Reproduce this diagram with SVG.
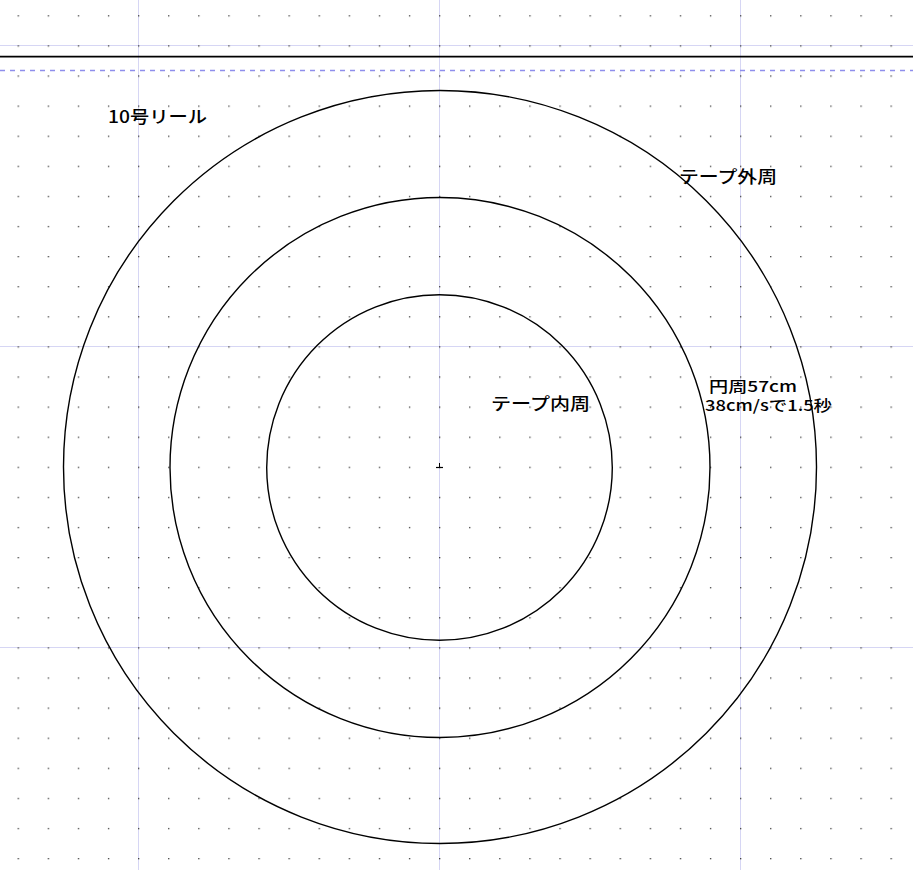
<svg xmlns="http://www.w3.org/2000/svg" width="913" height="870" viewBox="0 0 913 870">
<defs>
<pattern id="dots" patternUnits="userSpaceOnUse" x="17.6" y="15.2" width="30.1" height="30.1">
<rect x="0" y="0" width="1.3" height="1.3" fill="#404040"/>
</pattern>
<style>
.grid{stroke:#d6d6f4;stroke-width:1;fill:none}
.ring{stroke:#000;stroke-width:1.4;fill:none}
.lbl{font-family:"Noto Sans CJK JP","Liberation Sans",sans-serif;font-size:17px;font-weight:500;fill:#000}
.sm{font-size:15px}
</style>
</defs>
<rect width="913" height="870" fill="#fff"/>
<g id="grid">
<line class="grid" x1="138.5" y1="0" x2="138.5" y2="870"/>
<line class="grid" x1="439.5" y1="0" x2="439.5" y2="870"/>
<line class="grid" x1="740.5" y1="0" x2="740.5" y2="870"/>
<line class="grid" x1="0" y1="45.5" x2="913" y2="45.5"/>
<line class="grid" x1="0" y1="346.5" x2="913" y2="346.5"/>
<line class="grid" x1="0" y1="647.5" x2="913" y2="647.5"/>
<rect width="913" height="870" fill="url(#dots)"/>
<line x1="0" y1="56.7" x2="913" y2="56.7" stroke="#000" stroke-width="1.8"/>
<line x1="0" y1="70.5" x2="913" y2="70.5" stroke="#8e8eec" stroke-width="1.4" stroke-dasharray="5,5"/>
</g>
<g id="outer-ring"><circle class="ring" cx="440" cy="467" r="376.5"/></g>
<g id="middle-ring"><circle class="ring" cx="440" cy="467.5" r="270"/></g>
<g id="inner-ring"><circle class="ring" cx="439.5" cy="467.5" r="172.8"/></g>
<g id="center-mark">
<line x1="439.5" y1="463" x2="439.5" y2="467" stroke="#000" stroke-width="1"/>
<line x1="436" y1="467.5" x2="443" y2="467.5" stroke="#000" stroke-width="1.2"/>
</g>
<g id="labels">
<text class="lbl" x="108" y="123" textLength="99" lengthAdjust="spacingAndGlyphs">10号リール</text>
<text class="lbl" x="679" y="183" textLength="98" lengthAdjust="spacingAndGlyphs">テープ外周</text>
<text class="lbl" x="491" y="410" textLength="99" lengthAdjust="spacingAndGlyphs">テープ内周</text>
<text class="lbl sm" x="709" y="392" textLength="88" lengthAdjust="spacingAndGlyphs">円周57cm</text>
<text class="lbl sm" x="705" y="411" textLength="127" lengthAdjust="spacingAndGlyphs">38cm/sで1.5秒</text>
</g>
</svg>
